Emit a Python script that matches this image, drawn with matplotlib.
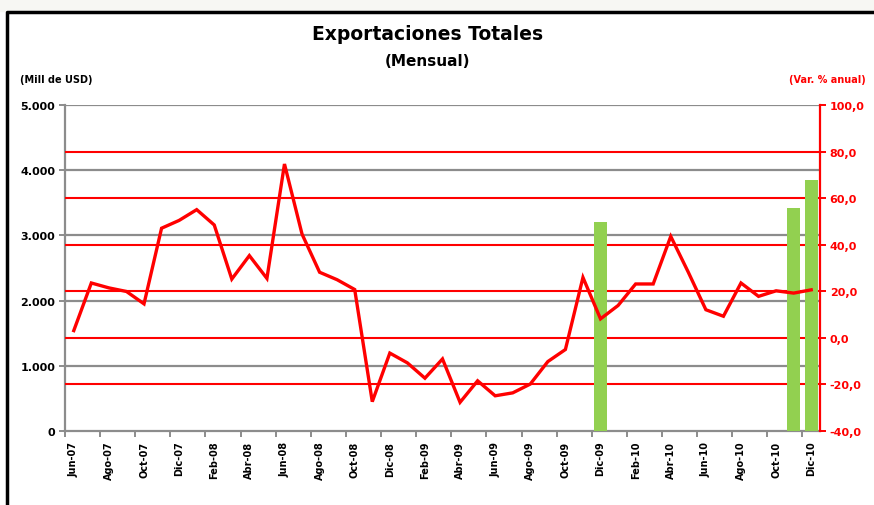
import matplotlib
matplotlib.use("Agg")
import matplotlib.pyplot as plt
from matplotlib.lines import Line2D
import numpy as np

plt.rcParams['font.family'] = ['DejaVu Sans']

# ---------------- data ----------------
month_abbr = ["Ene", "Feb", "Mar", "Abr", "May", "Jun", "Jul", "Ago", "Sep", "Oct", "Nov", "Dic"]
categories = ([f"{m}-07" for m in month_abbr[5:]] +
              [f"{m}-08" for m in month_abbr] +
              [f"{m}-09" for m in month_abbr] +
              [f"{m}-10" for m in month_abbr])

exports = [1540, 2270, 2195, 2140, 1950, 3110, 3230, 3395, 3160, 2330,
           2690, 2340, 4095, 3020, 2435, 2320, 2170, 450, 1195, 1045,
           810, 1105, 440, 770, 540, 585, 720, 1065, 1250, 2355,
           1720, 1925, 2255, 2255, 2985, 2435, 1860, 1760, 2270, 2065,
           2150, 2115, 2165]

bar_months = ["Dic-09", "Nov-10", "Dic-10"]
bar_values = [49.6, 55.6, 67.8]

left_ticks = [0, 1000, 2000, 3000, 4000, 5000]
left_labels = ["0", "1.000", "2.000", "3.000", "4.000", "5.000"]
right_ticks = [-40, -20, 0, 20, 40, 60, 80, 100]
right_labels = ["-40,0", "-20,0", "0,0", "20,0", "40,0", "60,0", "80,0", "100,0"]

# ---------------- figure ----------------
W, H = 874, 506
fig = plt.figure(figsize=(W / 100, H / 100), dpi=100)
fig.patch.set_facecolor("white")

x0, x1 = 65 / W, 820 / W
y0, y1 = 1 - 432 / H, 1 - 106 / H
rect = [x0, y0, x1 - x0, y1 - y0]

GRAY = "#8c8c8c"
RED = "#ff0000"
GREEN = "#92d050"

n = len(categories)
x = np.arange(n)

# base axes: left scale, gray grid
ax1 = fig.add_axes(rect)
ax1.set_xlim(-0.5, n - 0.5)
ax1.set_ylim(0, 5000)
ax1.set_yticks(left_ticks)
ax1.set_yticklabels(left_labels, fontsize=8, fontweight="bold")
for t in left_ticks[1:]:
    ax1.axhline(t, color=GRAY, lw=1.6, zorder=0)
ax1.spines["top"].set_visible(False)
ax1.spines["right"].set_visible(False)
ax1.spines["left"].set_color(GRAY)
ax1.spines["bottom"].set_color(GRAY)
ax1.spines["left"].set_linewidth(1.6)
ax1.spines["bottom"].set_linewidth(1.6)
ax1.tick_params(axis="y", colors=GRAY, length=4, width=1.4, labelcolor="black", pad=3)

ax1.set_xticks(x[::2])
ax1.set_xticklabels(categories[::2], rotation=90, fontsize=7, fontweight="bold")
ax1.set_xticks(np.arange(-0.5, n - 1, 2), minor=True)
ax1.tick_params(axis="x", which="major", length=0, pad=7)
ax1.tick_params(axis="x", which="minor", length=4, width=1.4, color=GRAY)

# right scale axes: red grid + bars
ax2 = ax1.twinx()
ax2.set_ylim(-40, 100)
ax2.set_yticks(right_ticks)
ax2.set_yticklabels(right_labels, fontsize=8, fontweight="bold", color=RED)
ax2.patch.set_visible(False)
for t in right_ticks[1:-1]:
    ax2.axhline(t, color=RED, lw=1.5, zorder=0)
for s in ["top", "left", "bottom"]:
    ax2.spines[s].set_visible(False)
ax2.spines["right"].set_color(RED)
ax2.spines["right"].set_linewidth(1.6)
ax2.tick_params(axis="y", colors=RED, length=4, width=1.4, pad=3)
bar_x = [categories.index(m) for m in bar_months]
base = right_ticks[0]
ax2.bar(bar_x, [v - base for v in bar_values], bottom=base, width=0.72,
        color=GREEN, zorder=2)

# top axes for the line on left scale
ax3 = ax1.twinx()
ax3.set_ylim(0, 5000)
ax3.patch.set_visible(False)
ax3.axis("off")
ax3.set_xlim(-0.5, n - 0.5)
ax3.plot(x, exports, color=RED, lw=2.4, solid_joinstyle="miter", zorder=5)

# ---------------- texts ----------------
fig.text(428 / W, 1 - 35 / H, "Exportaciones Totales", ha="center", va="center",
         fontsize=13.5, fontweight="bold")
fig.text(428 / W, 1 - 61 / H, "(Mensual)", ha="center", va="center",
         fontsize=11, fontweight="bold")
fig.text(20 / W, 1 - 80 / H, "(Mill de USD)", ha="left", va="center",
         fontsize=7, fontweight="bold")
fig.text(866 / W, 1 - 80 / H, "(Var. % anual)", ha="right", va="center",
         fontsize=7, fontweight="bold", color=RED)

# frame
fig.add_artist(Line2D([7 / W, 7 / W, 1.0], [0.0, 1 - 13 / H, 1 - 13 / H],
                      transform=fig.transFigure, color="black", lw=2.5))
fig.patches.append(plt.Rectangle((0, 1 - 12 / H), 1, 12 / H, transform=fig.transFigure,
                                 color="#f7f7f3", zorder=-1))

fig.savefig("out.png", dpi=100)
